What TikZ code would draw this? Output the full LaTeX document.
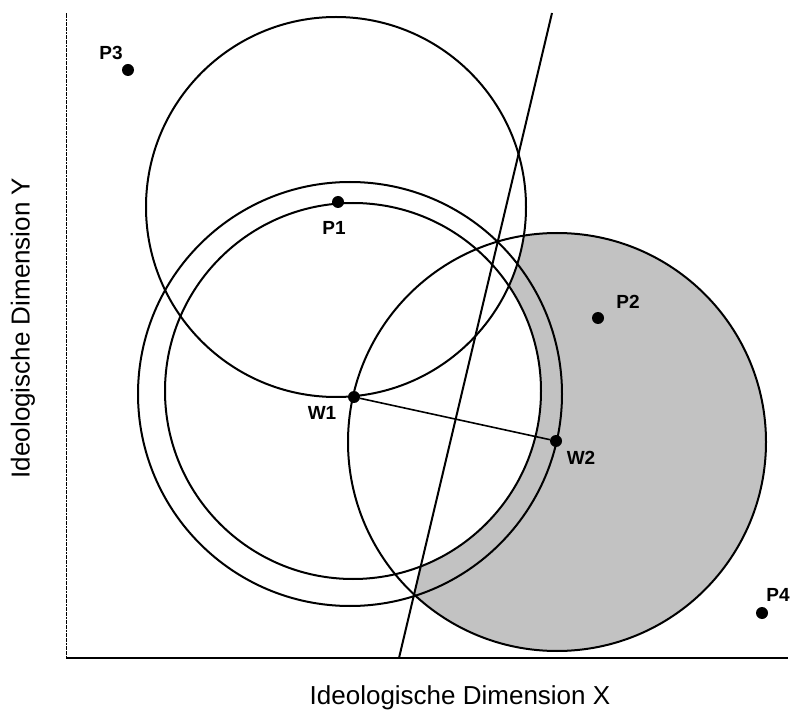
\documentclass[tikz,border=0pt]{standalone}
\usepackage{fontspec}
\setmainfont{Liberation Sans}
\usetikzlibrary{positioning}
\tikzset{
  dot/.style={circle, fill=black, inner sep=0pt, minimum size=12pt},
  lbl/.style={font=\fontsize{19}{19}\selectfont\bfseries, inner sep=0pt},
  axislbl/.style={font=\fontsize{26}{26}\selectfont, inner sep=0pt},
  curve/.style={line width=2pt},
  winset/.style={fill=black!24}
}

\begin{document}
\begin{tikzpicture}[x=1pt, y=-1pt]
  \useasboundingbox (0,0) rectangle (793,711);

  % centres of the circles
  \coordinate (cP1) at (336,207);
  \coordinate (cIn) at (353,391);
  \coordinate (cOut) at (350,394);
  \coordinate (cW2) at (557,442);

  % ends of the straight line
  \coordinate (l1) at (399,658);
  \coordinate (l2) at (552,13);

  % shaded area
  \begin{scope}
    \clip (386,711) -- (555,0) -- (793,0) -- (793,711) -- cycle;
    \fill[winset] (cW2) circle (209pt);
  \end{scope}
  \fill[white] (cIn) circle (188pt);
  \fill[white] (cP1) circle (190pt);

  % axes
  \coordinate (o) at (66,658);
  \coordinate (ytop) at (66,13);
  \coordinate (xend) at (788,658);
  \draw[line width=1pt, dash pattern=on 2pt off 0.6pt] (o) -- (ytop);
  \draw[line width=1.8pt] (o) -- (xend);

  % circles
  \draw[curve] (cP1) circle (190pt);
  \draw[curve] (cIn) circle (188pt);
  \draw[curve] (cOut) circle (212pt);
  \draw[curve] (cW2) circle (209pt);
  \draw[curve] (l1) -- (l2);

  % points
  \node[dot] (P3) at (128,70) {};
  \node[dot] (P1) at (338,202) {};
  \node[dot] (P2) at (598,318) {};
  \node[dot] (W1) at (354,397) {};
  \node[dot] (W2) at (556,441) {};
  \node[dot] (P4) at (762,613) {};

  \draw[line width=1.6pt] (W1) -- (W2);

  % labels
  \node[lbl] (lP3) at (111,53) {P3};
  \node[lbl] (lP1) at (334,228) {P1};
  \node[lbl] (lP2) at (628,302) {P2};
  \node[lbl] (lW1) at (322,413) {W1};
  \node[lbl] (lW2) at (581,458) {W2};
  \node[lbl] (lP4) at (778,595) {P4};

  \node[axislbl] (xlab) at (460,698) {Ideologische Dimension X};
  \node[axislbl, rotate=90] (ylab) at (23,328) {Ideologische Dimension Y};
\end{tikzpicture}
\end{document}
